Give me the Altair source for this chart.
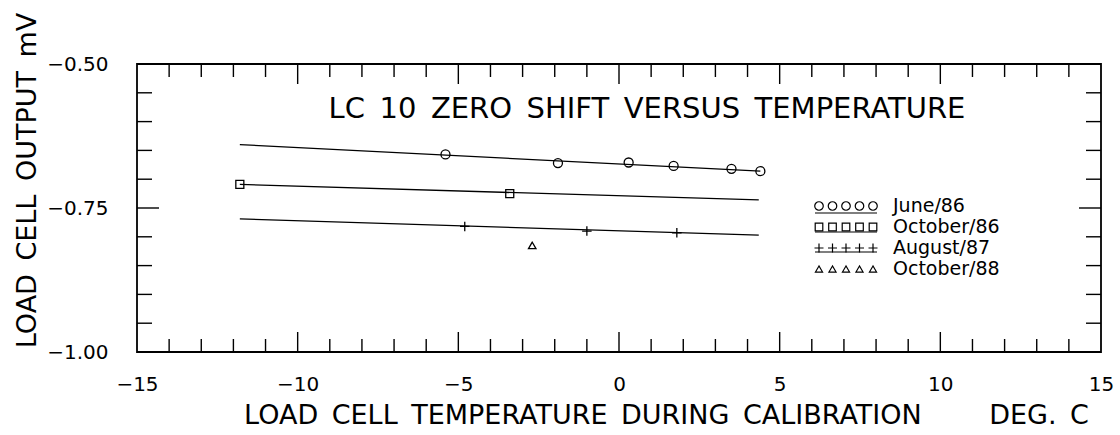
import altair as alt
import pandas as pd

# Zero readings of load cell LC 10: calibration temperature (deg C) and output (mV)
june86_temp = [-5.4, -1.9, 0.3, 1.7, 3.5, 4.4]
june86_mv = [-0.657, -0.672, -0.671, -0.677, -0.682, -0.686]
oct86_temp = [-11.8, -3.4]
oct86_mv = [-0.709, -0.725]
aug87_temp = [-4.8, -1.0, 1.8]
aug87_mv = [-0.782, -0.790, -0.793]
oct88_temp = [-2.7]
oct88_mv = [-0.815]

# Straight-line fits, given by their two end points
june86_fit_temp = [-11.8, 4.4]
june86_fit_mv = [-0.640, -0.686]
oct86_fit_temp = [-11.8, 4.35]
oct86_fit_mv = [-0.709, -0.736]
aug87_fit_temp = [-11.8, 4.35]
aug87_fit_mv = [-0.769, -0.797]

series_names = ["June/86", "October/86", "August/87", "October/88"]
x_tick_labels = [-15, -10, -5, 0, 5, 10, 15]
y_tick_labels = [-1.00, -0.75, -0.50]

chart_title = "LC\u200210\u2002ZERO\u2002SHIFT\u2002VERSUS\u2002TEMPERATURE"
x_title = "LOAD\u2002CELL\u2002TEMPERATURE\u2002DURING\u2002CALIBRATION\u2003\u2003\u2002DEG.\u2002C"
y_title = "LOAD\u2002CELL\u2002OUTPUT\u2002mV"

# ---- layout -------------------------------------------------------------
W, H = 964, 288
PAD = {"left": 137, "top": 64, "right": 19, "bottom": 83}
X_DOM = [-15, 15]
Y_DOM = [-1.0, -0.5]
FONT = "DejaVu Sans"


def data_x(px):
    """Page pixel column -> temperature units."""
    return X_DOM[0] + (px - PAD["left"]) / W * (X_DOM[1] - X_DOM[0])


def data_y(py):
    """Page pixel row -> mV units."""
    return Y_DOM[1] - (py - PAD["top"]) / H * (Y_DOM[1] - Y_DOM[0])


xs = alt.Scale(domain=X_DOM, nice=False, zero=False)
ys = alt.Scale(domain=Y_DOM, nice=False, zero=False)

X_AXIS = alt.Axis(
    values=x_tick_labels, format="d", title=x_title,
    titleFontSize=27, titleFontWeight="normal", titleColor="black",
    titleX=529, titleY=71, titleAlign="center", titleBaseline="alphabetic",
    labelFontSize=20, labelColor="black", labelPadding=22, labelFlush=False,
    ticks=False, tickSize=0, domain=False, grid=False,
)
Y_AXIS = alt.Axis(
    values=y_tick_labels, format=".2f", title=y_title,
    titleFontSize=27, titleFontWeight="normal", titleColor="black",
    titleAngle=270, titleX=-102, titleY=116, titleAlign="center",
    titleBaseline="alphabetic",
    labelFontSize=20, labelColor="black", labelPadding=29, labelFlush=False,
    ticks=False, tickSize=0, domain=False, grid=False,
)


def X(field="t"):
    return alt.X(f"{field}:Q", scale=xs, axis=X_AXIS)


def Y(field="mv"):
    return alt.Y(f"{field}:Q", scale=ys, axis=Y_AXIS)


layers = []

# ---- inward tick marks on all four sides -----------------------------------
x_minor = [v for v in range(-14, 15) if v % 5 != 0]
x_major = [-10, -5, 0, 5, 10]
y_minor = [-0.95, -0.90, -0.85, -0.80, -0.70, -0.65, -0.60, -0.55]
y_major = [-0.75]

for vals, ln in ((x_minor, 13), (x_major, 20)):
    d = pd.DataFrame({"t": vals})
    layers.append(alt.Chart(d).mark_rule(color="black", strokeWidth=1.4).encode(
        x=X(), y=alt.value(H), y2=alt.value(H - ln)))
    layers.append(alt.Chart(d).mark_rule(color="black", strokeWidth=1.4).encode(
        x=X(), y=alt.value(0), y2=alt.value(ln)))
for vals, ln in ((y_minor, 15), (y_major, 22)):
    d = pd.DataFrame({"mv": vals})
    layers.append(alt.Chart(d).mark_rule(color="black", strokeWidth=1.4).encode(
        y=Y(), x=alt.value(0), x2=alt.value(ln)))
    layers.append(alt.Chart(d).mark_rule(color="black", strokeWidth=1.4).encode(
        y=Y(), x=alt.value(W), x2=alt.value(W - ln)))

# ---- fitted lines ----------------------------------------------------------
for ft, fm in ((june86_fit_temp, june86_fit_mv),
               (oct86_fit_temp, oct86_fit_mv),
               (aug87_fit_temp, aug87_fit_mv)):
    d = pd.DataFrame({"t": ft, "mv": fm})
    layers.append(alt.Chart(d).mark_line(color="black", strokeWidth=1.3).encode(
        x=X(), y=Y(), order="t:Q"))

# ---- data points and legend -------------------------------------------------
PLUS = "M0,-1L0,1M-1,0L1,0"
series = [
    (june86_temp, june86_mv, "circle", 81, 7),
    (oct86_temp, oct86_mv, "square", 64, 5),
    (aug87_temp, aug87_mv, PLUS, 90, 4),
    (oct88_temp, oct88_mv, "triangle-up", 56, None),
]

LEG_SYM_X0, LEG_SYM_STEP, LEG_TEXT_X = 819, 13.5, 893
LEG_ROW_Y0, LEG_ROW_STEP = 206, 21

for i, (temps, mvs, shape, size, underline) in enumerate(series):
    name = series_names[i]
    pts = pd.DataFrame({"t": temps, "mv": mvs})
    layers.append(alt.Chart(pts).mark_point(
        shape=shape, size=size, filled=False, color="black", strokeWidth=1.3,
        opacity=1).encode(x=X(), y=Y()))

    row_py = LEG_ROW_Y0 + i * LEG_ROW_STEP
    sym = pd.DataFrame({
        "t": [data_x(LEG_SYM_X0 + k * LEG_SYM_STEP) for k in range(5)],
        "mv": [data_y(row_py)] * 5,
    })
    layers.append(alt.Chart(sym).mark_point(
        shape=shape, size=size * 0.9, filled=False, color="black",
        strokeWidth=1.2, opacity=1).encode(x=X(), y=Y()))

    if underline is not None:
        ul = pd.DataFrame({
            "t": [data_x(LEG_SYM_X0 - 4)],
            "t2": [data_x(LEG_SYM_X0 + 4 * LEG_SYM_STEP + 4)],
            "mv": [data_y(row_py + underline)],
        })
        layers.append(alt.Chart(ul).mark_rule(color="black", strokeWidth=1.2).encode(
            x=X(), x2="t2:Q", y=Y()))

    lab = pd.DataFrame({"t": [data_x(LEG_TEXT_X)], "mv": [data_y(row_py)],
                        "label": [name]})
    layers.append(alt.Chart(lab).mark_text(
        align="left", baseline="middle", fontSize=19, font=FONT,
        color="black").encode(x=X(), y=Y(), text="label:N"))

# ---- title inside the frame -------------------------------------------------
ttl = pd.DataFrame({"label": [chart_title]})
layers.append(alt.Chart(ttl).mark_text(
    align="center", baseline="alphabetic", fontSize=29, font=FONT,
    color="black").encode(x=alt.value(510), y=alt.value(54), text="label:N"))

chart = alt.layer(*layers).properties(
    width=W, height=H, padding=PAD,
    autosize=alt.AutoSizeParams(type="none"),
    background="white",
).configure(font=FONT).configure_view(stroke="black", strokeWidth=1.8)

chart.save("out.html", embed_options={"renderer": "svg", "actions": False})
